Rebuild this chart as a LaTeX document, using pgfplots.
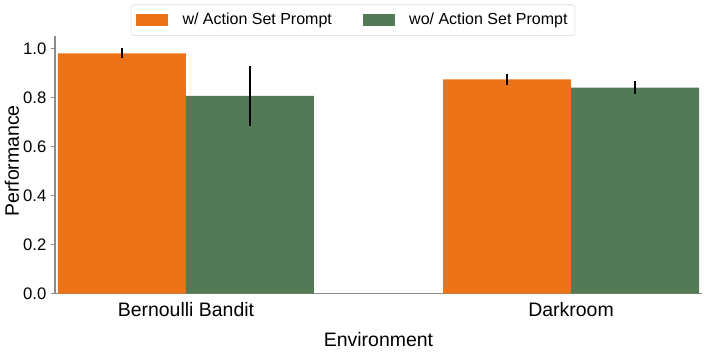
\documentclass[border=0pt]{standalone}
\usepackage{pgfplots}
\pgfplotsset{compat=1.18}
\usepackage{fontspec}
\setmainfont{Liberation Sans}
\definecolor{cor}{RGB}{238,115,22}
\definecolor{cgr}{RGB}{83,122,85}
\definecolor{spine}{RGB}{140,140,140}
\begin{document}
\begin{tikzpicture}
\path[use as bounding box] (-41.25pt,-44.5pt) rectangle (488.25pt,220.25pt);
\begin{axis}[
  scale only axis, width=485.25pt, height=193.3pt,
  xmin=-0.34, xmax=1.34, ymin=0, ymax=1.052,
  axis x line*=bottom, axis y line*=left,
  axis line style={-, draw=spine, line width=0.8pt},
  ybar, bar width=0.3325, bar shift=0pt,
  xtick={0,1}, xticklabels={Bernoulli Bandit, Darkroom},
  x tick style={draw=none},
  ytick={0,0.2,0.4,0.6,0.8,1.0},
  y tick style={draw=spine, line width=0.8pt},
  tick align=outside, major tick length=3pt,
  yticklabel style={/pgf/number format/fixed, /pgf/number format/fixed zerofill, /pgf/number format/precision=1, font=\fontsize{12.5}{14}\selectfont},
  /pgf/number format/assume math mode=true,
  xticklabel style={font=\fontsize{14.6}{17}\selectfont},
  ylabel={Performance}, xlabel={Environment},
  label style={font=\fontsize{14.6}{17}\selectfont},
  ylabel style={at={(axis description cs:-0.0665,0.515)}, anchor=center},
  xlabel style={at={(axis description cs:0.5,-0.1796)}, anchor=center},
  legend columns=2,
  legend style={at={(0.4606,1)}, anchor=south, draw=black!15, rounded corners=2pt,
    font=\fontsize{12}{14}\selectfont, inner xsep=3.5pt, inner ysep=4.5pt,
    /tikz/every odd column/.append style={column sep=9pt},
    /tikz/every even column/.append style={column sep=21pt}},
  legend image code/.code={\fill[#1, sharp corners] (0pt,-4.5pt) rectangle (24pt,4.5pt);},
  error bars/y dir=both, error bars/y explicit, error bars/error mark=none,
  error bars/error bar style={line width=1.2pt, black},
]
\addplot[fill=cor, draw=none] coordinates {
  (-0.16625,0.981) += (0,0.021) -= (0,0.020)
  (0.83375,0.875) += (0,0.022) -= (0,0.023)
};
\addlegendentry{w/ Action Set Prompt}
\addplot[fill=cgr, draw=none] coordinates {
  (0.16625,0.807) += (0,0.124) -= (0,0.123)
  (1.16625,0.841) += (0,0.028) -= (0,0.027)
};
\addlegendentry{wo/ Action Set Prompt}
\end{axis}
\end{tikzpicture}
\end{document}
